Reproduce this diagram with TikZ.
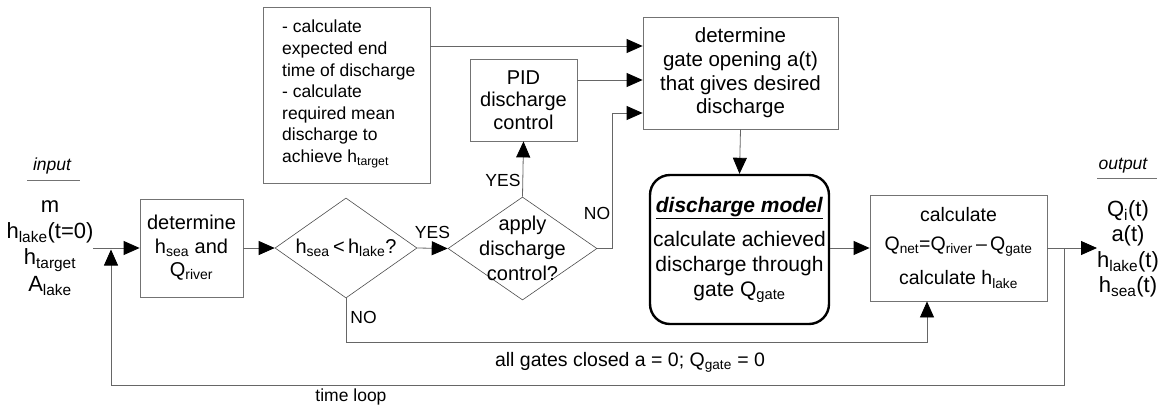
\documentclass[tikz,border=0pt]{standalone}
\usepackage{fontspec}
\setmainfont{Liberation Sans}
\usetikzlibrary{arrows.meta,shapes.geometric}
\newcommand{\lo}[1]{\textsubscript{#1}}
\begin{document}
\begin{tikzpicture}[x=1pt,y=-1pt,
  box/.style={draw=black!55, line width=0.8pt, rectangle, inner sep=0pt, align=center,
    font=\fontsize{20}{23.5}\selectfont},
  dia/.style={draw=black!70, line width=0.6pt, diamond, inner sep=0pt},
  txt/.style={inner sep=0pt, align=center, font=\fontsize{20}{24.5}\selectfont},
  big/.style={inner sep=0pt, align=center, font=\fontsize{22}{26.3}\selectfont},
  lbl/.style={inner sep=0pt, font=\fontsize{17.5}{20}\selectfont},
  conn/.style={draw=black!60, line width=0.8pt},
  arr/.style={conn, -{Triangle[length=16pt,width=14pt,color=black]}}
]
\useasboundingbox (0,0) rectangle (1165,408);

% input and output columns
\node[lbl, font=\fontsize{17.5}{20}\selectfont\itshape] (inlab) at (52,166) {input};
\draw[black!55, line width=0.8pt] (27,180) coordinate (inl1) -- (80,180) coordinate (inl2);
\node[big] (inp) at (50,248) {m\\h\lo{lake}(t=0)\\h\lo{target}\\A\lo{lake}};
\coordinate (inpend) at (93,248);

\node[lbl, font=\fontsize{17.5}{20}\selectfont\itshape] (outlab) at (1123,166) {output};
\draw[black!55, line width=0.8pt] (1097,178) coordinate (outl1) -- (1157,178) coordinate (outl2);
\node[big, font=\fontsize{22}{25.5}\selectfont] (outp) at (1128,249) {Q\lo{i}(t)\\a(t)\\h\lo{lake}(t)\\h\lo{sea}(t)};
\coordinate (outtip) at (1097,248);

% process boxes
\node[box, minimum width=103, minimum height=98] (det) at (191.5,248)
  {determine\\h\lo{sea} and\\Q\lo{river}};

\node[dia, minimum width=142, minimum height=100] (d1) at (346,248) {};
\node[txt] (d1t) at (346,248) {h\lo{sea}\,<\,h\lo{lake}?};

\node[dia, minimum width=149, minimum height=103] (d2) at (522.5,248.5) {};
\node[txt, font=\fontsize{20}{25}\selectfont] (d2t) at (522.5,248) {apply\\discharge\\control?};

\node[box, minimum width=107, minimum height=82, font=\fontsize{20}{22.5}\selectfont] (pid) at (523.5,100)
  {PID\\discharge\\control};

\node[box, minimum width=167, minimum height=176] (plan) at (346.5,95) {};
\node[inner sep=0pt, align=left, anchor=west, font=\fontsize{17.5}{21.6}\selectfont] (plant) at (282,94)
  {- calculate\\expected end\\time of discharge\\- calculate\\required mean\\discharge to\\achieve h\lo{target}};

\node[box, minimum width=195, minimum height=112, font=\fontsize{20.5}{23.7}\selectfont] (gate) at (740.5,73)
  {determine\\gate opening a(t)\\that gives desired\\discharge};

\node[draw=black, line width=2.4pt, rounded corners=20pt, minimum width=179, minimum height=149,
  inner sep=0pt, align=center, font=\fontsize{21}{25}\selectfont] (model) at (739.5,249.5)
  {\underline{\textbf{\textit{discharge model}}}\\[9pt]calculate achieved\\discharge through\\gate Q\lo{gate}};

\node[box, minimum width=177, minimum height=106, font=\fontsize{19.5}{23.5}\selectfont] (calc) at (958.5,248)
  {calculate\\[5pt]Q\lo{net}=Q\lo{river}\,--\,Q\lo{gate}\\[11pt]calculate h\lo{lake}};

% connectors
\draw[arr] (inpend) -- (det.west);
\draw[arr] (det.east) -- (d1.west);
\draw[arr] (d1.east) -- node[lbl, above=9pt] (yes1) {YES} (d2.west);
\draw[arr] (d2.north) -- (pid.south);
\node[lbl] (yes2) at (503,180) {YES};
\draw[arr] (d2.east) -- (612,248.5) coordinate (nobend) |- (gate.west |- 0,113);
\node[lbl] (no2) at (597,213) {NO};
\draw[arr] (plan.east |- 0,46) -- (gate.west |- 0,46);
\draw[arr] (pid.east |- 0,80) -- (gate.west |- 0,80);
\draw[arr] (gate.south) -- (model.north);
\draw[arr] (model.east |- calc.west) -- (calc.west);
\draw[arr] (d1.south) -- (346,342) coordinate (closedbend) -| (calc.south -| 927,0);
\node[lbl] (no1) at (363.5,317) {NO};
\node[lbl, font=\fontsize{19.5}{22}\selectfont] (closed) at (630,362)
  {all gates closed a = 0; Q\lo{gate} = 0};
\draw[arr] (calc.east) -- (outtip);
\coordinate (loopstart) at (1064,248);
\draw[arr] (loopstart) -- (1064,385) -- (111,385) -- (111,249.5) coordinate (looptip);
\node[lbl] (tloop) at (351,397) {time loop};
\end{tikzpicture}
\end{document}
